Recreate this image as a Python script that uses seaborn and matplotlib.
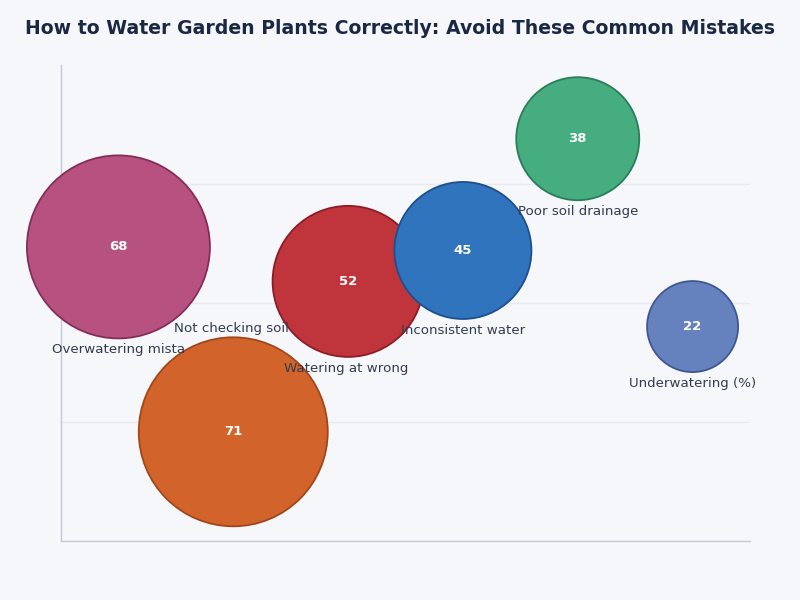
import matplotlib
matplotlib.use("Agg")
import matplotlib.pyplot as plt
import seaborn as sns
import pandas as pd
import numpy as np

# ---- data ----
labels = ["Overwatering mista", "Not checking soil ", "Watering at wrong ",
          "Inconsistent water", "Poor soil drainage", "Underwatering (%)"]
values = [68, 71, 52, 45, 38, 22]
y_vals = [2.47, 0.915, 2.18, 2.44, 3.38, 1.80]
x_pos = [0, 1, 2, 3, 4, 5]
fill_colors = ["#b75280", "#d2642b", "#c0353c", "#3074be", "#45ad80", "#6682be"]
edge_colors = ["#862c58", "#a1461b", "#8d1c24", "#1e4f8c", "#2a7d56", "#3e5791"]
title = "How to Water Garden Plants Correctly: Avoid These Common Mistakes"

BG = "#f5f7fb"
DPI = 100

sns.set_theme(style="whitegrid")
plt.rcParams["font.family"] = ["DejaVu Sans"]

df = pd.DataFrame({"label": labels, "value": values, "y": y_vals, "x": x_pos})

# bubble radius in pixels grows with value
radius_px = {l: v + 23.5 for l, v in zip(labels, values)}
sizes = {l: (2 * r * 72.0 / DPI) ** 2 for l, r in radius_px.items()}
palette = dict(zip(labels, fill_colors))

fig = plt.figure(figsize=(8, 6), dpi=DPI, facecolor=BG)
ax = fig.add_axes([0.07625, 0.099, 0.86125, 0.7927])
ax.set_facecolor(BG)

sns.scatterplot(data=df, x="x", y="y", hue="label", size="label",
                palette=palette, sizes=sizes, legend=False,
                edgecolor=edge_colors, linewidth=1.3, ax=ax, zorder=3,
                clip_on=False)
for coll in ax.collections:
    coll.set_clip_on(False)

ax.set_xlim(-0.5, 5.5)
ax.set_ylim(0, 4)
ax.set_yticks([1, 2, 3])
ax.set_xticks([])
ax.set_yticklabels([])
ax.tick_params(left=False, bottom=False)
ax.set_xlabel("")
ax.set_ylabel("")
ax.xaxis.grid(False)
ax.yaxis.grid(True, color="#e6e9ef", linewidth=1.0)
for s in ["top", "right"]:
    ax.spines[s].set_visible(False)
for s in ["left", "bottom"]:
    ax.spines[s].set_visible(True)
    ax.spines[s].set_color("#c5c9d1")
    ax.spines[s].set_linewidth(1.0)
    ax.spines[s].set_zorder(1)

# value labels and category labels
for l, v, x, y in zip(labels, values, x_pos, y_vals):
    ax.text(x, y, str(v), ha="center", va="center", color="white",
            fontsize=9.5, fontweight="bold", zorder=5)
    r_pt = radius_px[l] * 72.0 / DPI
    # place below unless it would fall outside the axes
    y_px = ax.transData.transform((x, y))[1]
    bottom_px = ax.transAxes.transform((0, 0))[1]
    if y_px - radius_px[l] - 22 > bottom_px:
        ax.annotate(l, (x, y), xytext=(0, -(r_pt + 3.5)), textcoords="offset points",
                    ha="center", va="top", fontsize=9.6, color="#333c4e", zorder=6)
    else:
        ax.annotate(l, (x, y), xytext=(0, r_pt + 2), textcoords="offset points",
                    ha="center", va="bottom", fontsize=9.6, color="#333c4e", zorder=6)

fig.text(0.5, 0.953, title, ha="center", va="center", fontsize=13.6,
         fontweight="bold", color="#1b2844")

fig.savefig("out.png", dpi=DPI, facecolor=BG)
